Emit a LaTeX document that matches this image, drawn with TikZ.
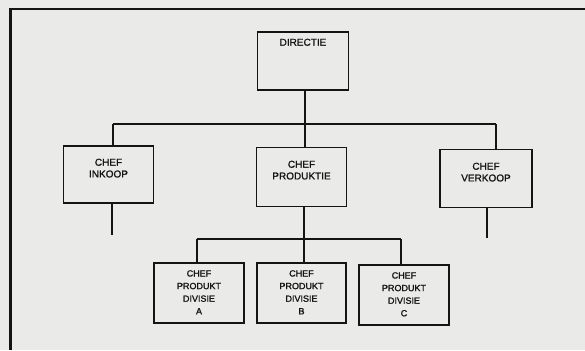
\documentclass[tikz,border=0pt]{standalone}
\usepackage{fontspec}
\setmainfont{Liberation Sans}
\newfontfamily\orgfont[FakeBold=1.2]{Liberation Sans}
\definecolor{paper}{RGB}{234,234,232}
\definecolor{ink}{RGB}{20,20,20}
\begin{document}
\begin{tikzpicture}[x=1pt,y=-1pt,
  orgbox/.style={draw=ink, line width=1.9pt, fill=paper, rectangle, inner sep=0pt},
  boxtext/.style={anchor=north, align=center, font=\orgfont\fontsize{10}{11.7}\selectfont, text=ink, inner sep=0pt},
  divtext/.style={boxtext, font=\orgfont\fontsize{9}{12.6}\selectfont},
  conn/.style={draw=ink, line width=1.9pt},
  frameline/.style={draw=ink, line width=2.3pt}]
\useasboundingbox (0,0) rectangle (585,350);
\fill[paper] (0,0) rectangle (585,350);
\draw[frameline] (585,9) -- (10.5,9) -- (10.5,350);
% boxes
\node[orgbox, minimum width=91pt, minimum height=58pt] (dir) at (303,61) {};
\node[orgbox, minimum width=90pt, minimum height=57pt] (ink) at (108.5,174.5) {};
\node[orgbox, minimum width=90pt, minimum height=59pt] (prod) at (301.5,177) {};
\node[orgbox, minimum width=92pt, minimum height=58pt] (verk) at (486,178.5) {};
\node[orgbox, minimum width=90pt, minimum height=60pt] (da) at (199,293) {};
\node[orgbox, minimum width=89pt, minimum height=60pt] (db) at (301.5,293) {};
\node[orgbox, minimum width=90pt, minimum height=60pt] (dc) at (404,295) {};
% texts
\node[boxtext] (tdir) at ([yshift=-7.5pt]dir.north) {DIRECTIE};
\node[boxtext] (tink) at ([yshift=-13.5pt]ink.north) {CHEF\\INKOOP};
\node[boxtext] (tprod) at ([yshift=-14pt]prod.north) {CHEF\\PRODUKTIE};
\node[boxtext] (tverk) at ([yshift=-14pt]verk.north) {CHEF\\VERKOOP};
\node[divtext] (tda) at ([yshift=-8pt]da.north) {CHEF\\PRODUKT\\DIVISIE\\A};
\node[divtext] (tdb) at ([yshift=-8pt]db.north) {CHEF\\PRODUKT\\DIVISIE\\B};
\node[divtext] (tdc) at ([yshift=-8pt]dc.north) {CHEF\\PRODUKT\\DIVISIE\\C};
% connectors
\coordinate (j1) at (305,124);
\coordinate (barL) at (113,124);
\coordinate (barR) at (496,124);
\coordinate (inkEnd) at (112,235);
\coordinate (verkEnd) at (487,238);
\coordinate (j2) at (304,239);
\coordinate (sL) at (197,239);
\coordinate (sR) at (401,239);
\draw[conn] (j1 |- dir.south) -- (j1);
\draw[conn] (barL) -- (barR);
\draw[conn] (barL) -- (barL |- ink.north);
\draw[conn] (j1) -- (j1 |- prod.north);
\draw[conn] (barR) -- (barR |- verk.north);
\draw[conn] (inkEnd |- ink.south) -- (inkEnd);
\draw[conn] (verkEnd |- verk.south) -- (verkEnd);
\draw[conn] (j2 |- prod.south) -- (j2);
\draw[conn] (sL) -- (sR);
\draw[conn] (sL) -- (sL |- da.north);
\draw[conn] (j2) -- (j2 |- db.north);
\draw[conn] (sR) -- (sR |- dc.north);
\end{tikzpicture}
\end{document}
